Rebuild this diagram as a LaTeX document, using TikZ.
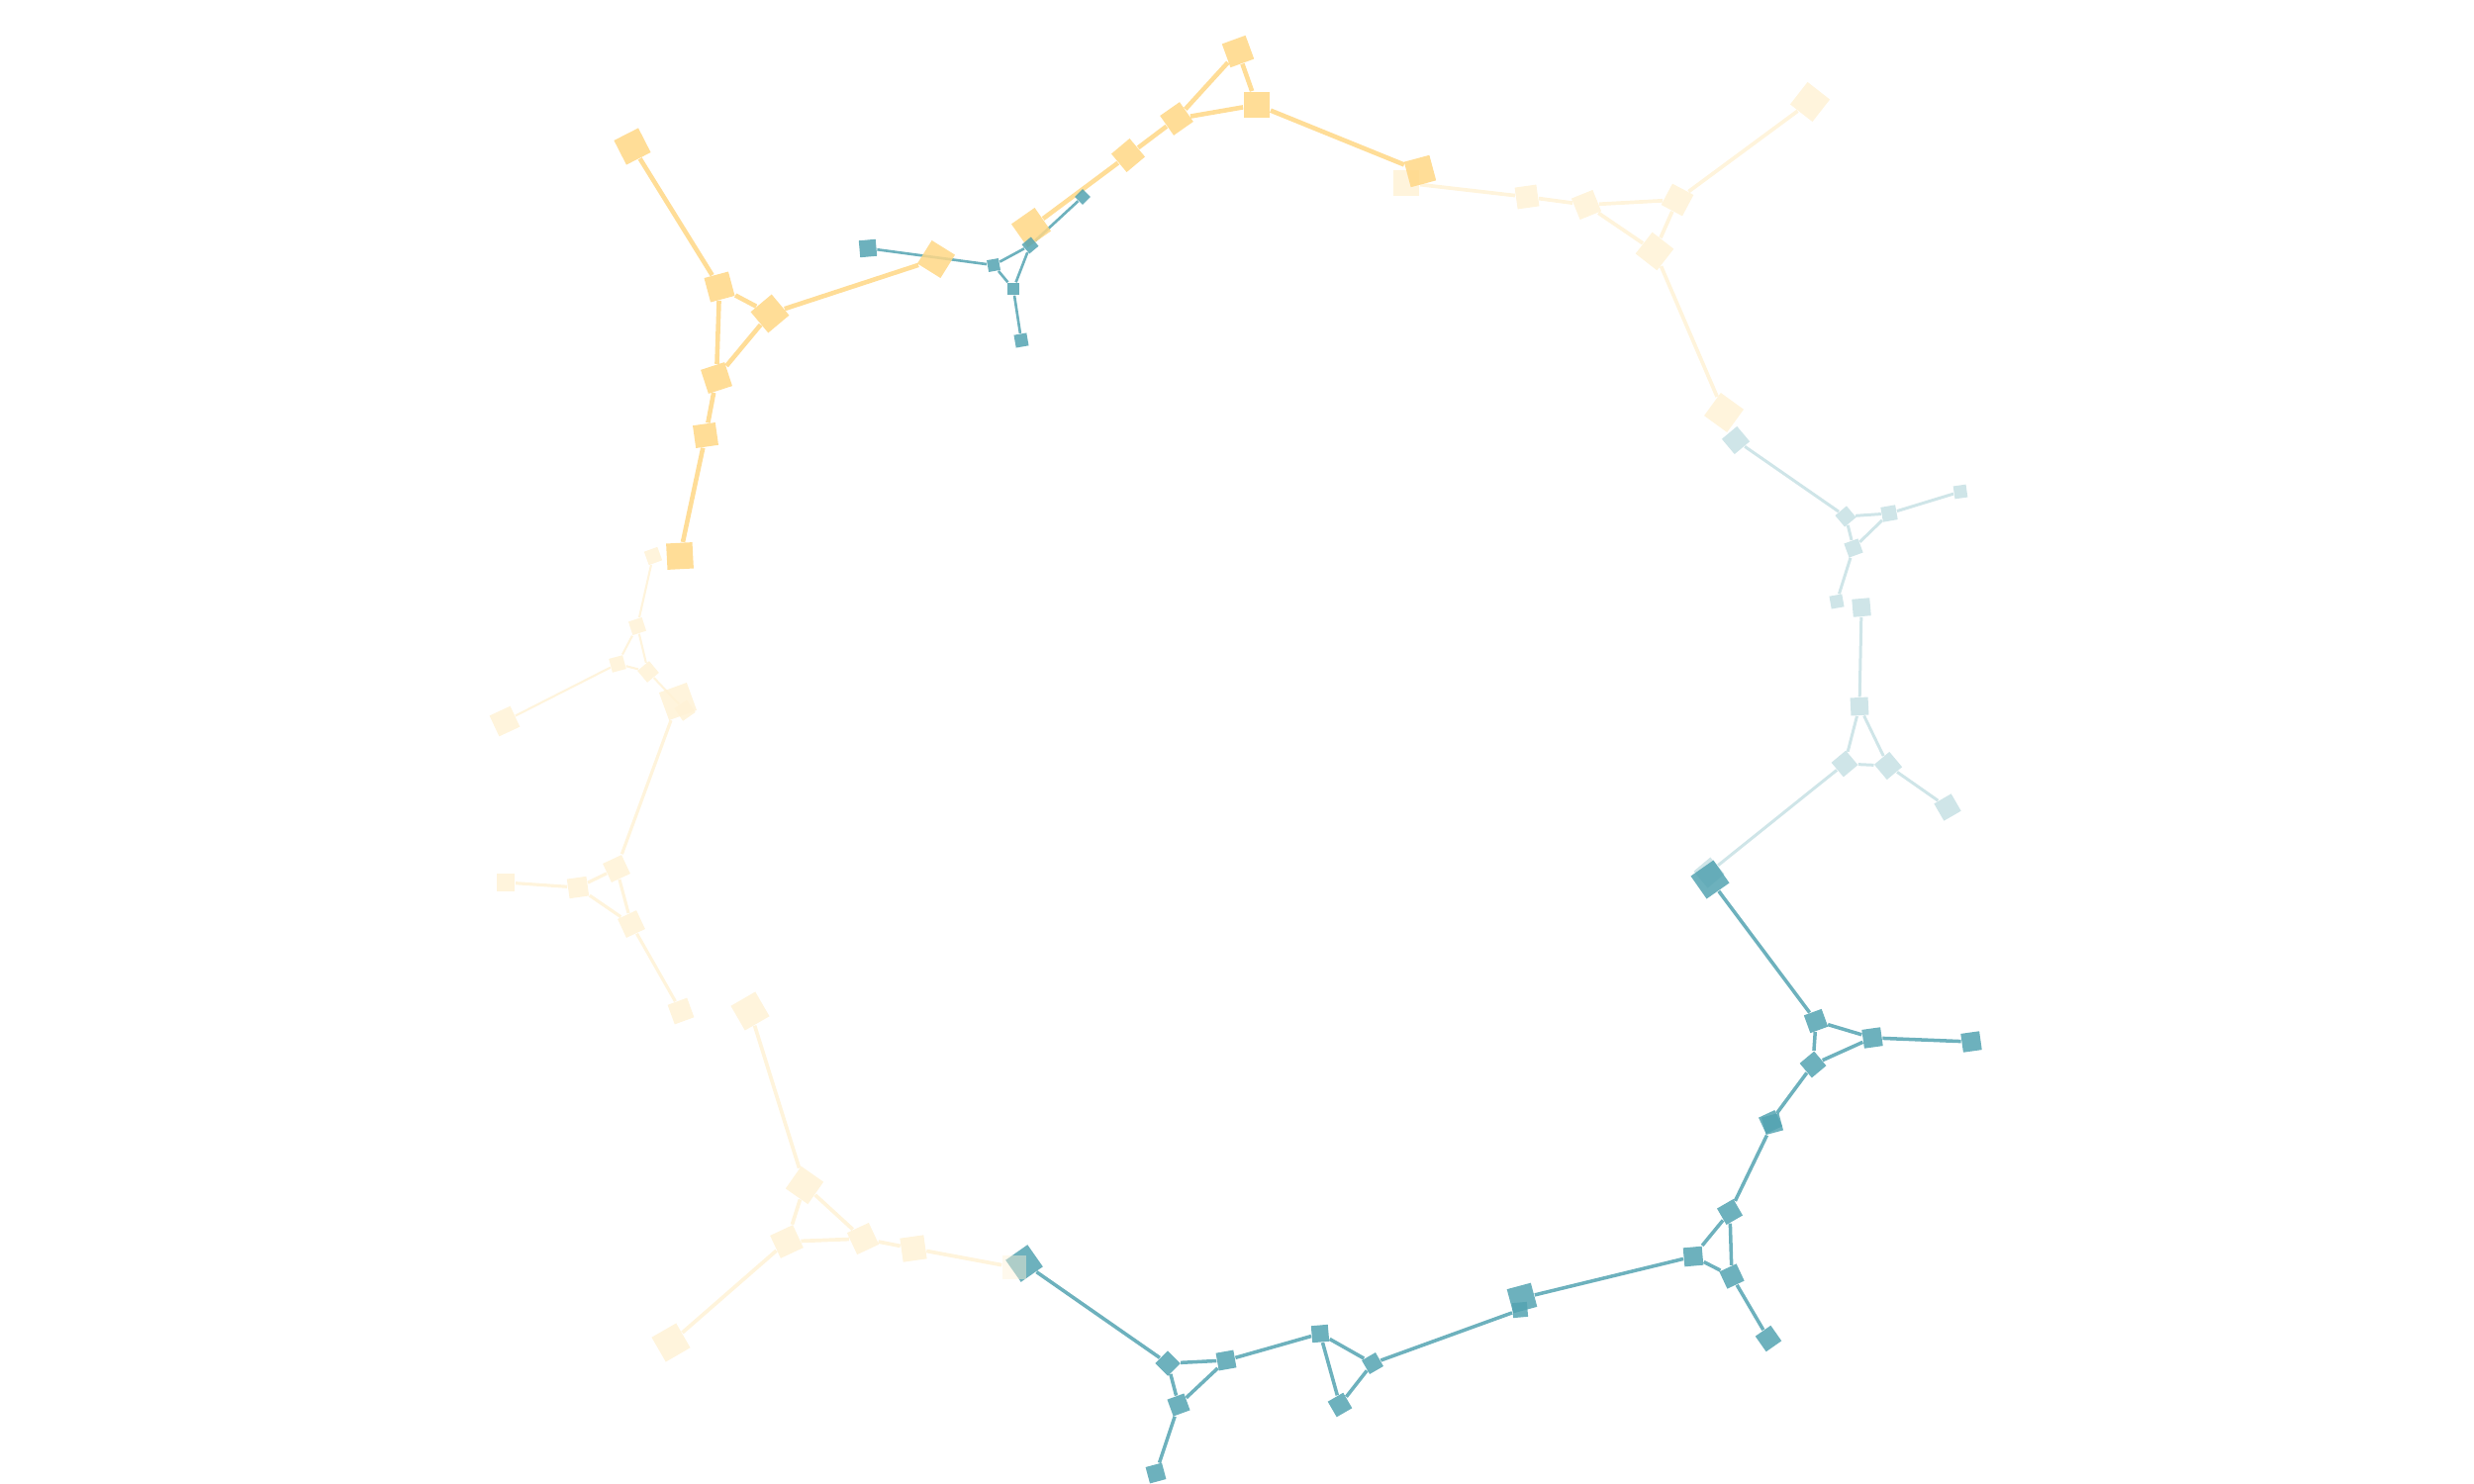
\documentclass[tikz,border=0pt]{standalone}
\usetikzlibrary{backgrounds}
\definecolor{gold}{RGB}{255,221,151}
\definecolor{goldF}{RGB}{255,215,133}
\definecolor{cream}{RGB}{255,244,220}
\definecolor{creamF}{RGB}{255,242,214}
\definecolor{teal}{RGB}{109,177,189}
\definecolor{tealF}{RGB}{83,163,177}
\definecolor{ice}{RGB}{207,229,232}
\definecolor{iceF}{RGB}{199,224,228}
\tikzset{
  sq/.style={rectangle, inner sep=0pt, minimum size=#1*0.01cm, fill opacity=0.85},
  gnode/.style={sq=1.15*#1, fill=goldF},
  cnode/.style={sq=1.1*#1, fill=creamF},
  tnode/.style={sq=#1, fill=tealF},
  inode/.style={sq=#1, fill=iceF},
  goldline/.style={draw=gold, line width=1.3pt},
  creamline/.style={draw=cream, line width=#1},
  tealline/.style={draw=teal, line width=#1},
  iceline/.style={draw=ice, line width=0.85pt}
}
\begin{document}
\begin{tikzpicture}[x=0.01cm, y=-0.01cm]
\useasboundingbox (0,0) rectangle (2500,1500);

% cream, top right
\node[cnode=24] (p1) at (1421,185) {};
\node[cnode=20, rotate=8] (p2) at (1543,199) {};
\node[cnode=21, rotate=22] (p3) at (1603,207) {};
\node[cnode=22, rotate=62] (p4) at (1695,202) {};
\node[cnode=25, rotate=52] (p5) at (1672,254) {};
\node[cnode=26, rotate=52] (p6) at (1829,103) {};
\node[cnode=26, rotate=54] (p7) at (1742,417) {};

% gold
\node[gnode=24, rotate=27] (g1) at (639,148) {};
\node[gnode=22, rotate=15] (g2) at (727,290) {};
\node[gnode=24, rotate=40] (g3) at (778,317) {};
\node[gnode=22, rotate=18] (g4) at (724,382) {};
\node[gnode=20, rotate=8] (g5) at (713,440) {};
\node[gnode=23, rotate=3] (g6) at (687,562) {};
\node[gnode=24, rotate=58] (g7) at (946,262) {};
\node[gnode=25, rotate=35] (g8) at (1042,230) {};
\node[gnode=21, rotate=40] (g9) at (1140,157) {};
\node[gnode=21, rotate=35] (g10) at (1189,120) {};
\node[gnode=22, rotate=20] (g11) at (1251,52) {};
\node[gnode=23] (g12) at (1270,106) {};
\node[gnode=23, rotate=15] (g13) at (1435,173) {};

% teal, top
\node[tnode=17, rotate=5] (b1) at (877,251) {};
\node[tnode=12, rotate=10] (b2) at (1004,268) {};
\node[tnode=12, rotate=40] (b3) at (1041,248) {};
\node[tnode=12] (b4) at (1024,292) {};
\node[tnode=13, rotate=10] (b5) at (1032,344) {};
\node[tnode=11, rotate=45] (b6) at (1094,199) {};

% ice, right
\node[inode=20, rotate=40] (lb1) at (1754,445) {};
\node[inode=15, rotate=40] (lb2) at (1865,522) {};
\node[inode=15, rotate=10] (lb3) at (1909,519) {};
\node[inode=15, rotate=20] (lb4) at (1873,554) {};
\node[inode=13, rotate=8] (lb5) at (1981,497) {};
\node[inode=13, rotate=10] (lb6) at (1856,608) {};
\node[inode=18, rotate=5] (lb7) at (1881,614) {};
\node[inode=18, rotate=3] (lb8) at (1879,714) {};
\node[inode=19, rotate=40] (lb9) at (1864,772) {};
\node[inode=20, rotate=40] (lb10) at (1908,774) {};
\node[inode=20, rotate=30] (lb11) at (1968,816) {};
\node[inode=22, rotate=40] (lb12) at (1727,882) {};

% teal, bottom right
\node[tnode=28, rotate=35] (t1) at (1728,889) {};
\node[tnode=19, rotate=20] (t2) at (1835,1032) {};
\node[tnode=19, rotate=8] (t3) at (1892,1049) {};
\node[tnode=19, rotate=40] (t4) at (1832,1076) {};
\node[tnode=19, rotate=8] (t5) at (1992,1053) {};
\node[tnode=18, rotate=25] (t6a) at (1789,1134) {};
\node[tnode=18, rotate=15] (t6b) at (1791,1136) {};
\node[tnode=19, rotate=30] (t7) at (1748,1225) {};
\node[tnode=19, rotate=5] (t8) at (1711,1270) {};
\node[tnode=19, rotate=25] (t9) at (1750,1290) {};
\node[tnode=19, rotate=35] (t10) at (1787,1353) {};
\node[tnode=25, rotate=15] (t11) at (1538,1312) {};
\node[tnode=15, rotate=5] (t12) at (1536,1324) {};
\node[tnode=16, rotate=30] (t13) at (1387,1378) {};
\node[tnode=17, rotate=5] (t14) at (1334,1348) {};
\node[tnode=18, rotate=30] (t15) at (1354,1420) {};
\node[tnode=18, rotate=10] (t16) at (1239,1375) {};
\node[tnode=18, rotate=45] (t17) at (1180,1378) {};
\node[tnode=18, rotate=20] (t18) at (1191,1420) {};
\node[tnode=17, rotate=15] (t19) at (1168,1489) {};

% cream, bottom left
\node[tnode=27, rotate=35] (c1) at (1035,1277) {};
\node[cnode=22, fill opacity=0.45] (pc1) at (1025,1281) {};
\node[cnode=22, rotate=8] (y1) at (923,1262) {};
\node[cnode=22, rotate=25] (y2) at (872,1252) {};
\node[cnode=25, rotate=55] (y3) at (813,1198) {};
\node[cnode=23, rotate=25] (y4) at (795,1255) {};
\node[cnode=26, rotate=30] (y5) at (678,1357) {};
\node[cnode=26, rotate=30] (y6) at (758,1022) {};
\node[cnode=19, rotate=20] (y7) at (688,1022) {};
\node[cnode=19, rotate=25] (q8) at (623,878) {};
\node[cnode=18, rotate=8] (q9) at (584,897) {};
\node[cnode=19, rotate=25] (q10) at (638,934) {};
\node[cnode=17] (q11) at (511,892) {};
\node[cnode=27, rotate=20] (q6) at (685,709) {};
\node[cnode=14, rotate=35] (q7) at (692,718) {};
\node[cnode=13, rotate=20] (q1) at (660,562) {};
\node[cnode=13, rotate=18] (q2) at (644,633) {};
\node[cnode=13, rotate=15] (q3) at (624,671) {};
\node[cnode=14, rotate=40] (q4) at (655,679) {};
\node[cnode=21, rotate=25] (q5) at (510,729) {};

\begin{scope}[on background layer]
\foreach \a/\b in {g1/g2, g2/g3, g2/g4, g3/g4, g4/g5, g5/g6, g3/g7,
    g8/g9, g9/g10, g10/g11, g10/g12, g11/g12, g12/g13}
  \draw[goldline] (\a) -- (\b);
\foreach \a/\b in {b1/b2, b2/b3, b2/b4, b3/b4, b4/b5, b3/b6}
  \draw[tealline=0.75pt] (\a) -- (\b);
\foreach \a/\b in {p1/p2, p2/p3, p3/p4, p3/p5, p4/p5, p4/p6, p5/p7,
    pc1/y1, y1/y2, y2/y3, y2/y4, y3/y4, y4/y5, y3/y6}
  \draw[creamline=1.05pt] (\a) -- (\b);
\foreach \a/\b in {q6/q8, q8/q9, q8/q10, q9/q10, q9/q11, q10/y7}
  \draw[creamline=0.9pt] (\a) -- (\b);
\foreach \a/\b in {q1/q2, q2/q3, q2/q4, q3/q4, q3/q5, q4/q7}
  \draw[creamline=0.6pt] (\a) -- (\b);
\foreach \a/\b in {lb1/lb2, lb2/lb3, lb2/lb4, lb3/lb4, lb3/lb5, lb4/lb6,
    lb7/lb8, lb8/lb9, lb8/lb10, lb9/lb10, lb10/lb11, lb9/lb12}
  \draw[iceline] (\a) -- (\b);
\foreach \a/\b in {t1/t2, t2/t3, t2/t4, t3/t4, t3/t5, t4/t6a,
    t6b/t7, t7/t8, t7/t9, t8/t9, t9/t10, t8/t11,
    t12/t13, t13/t14, t13/t15, t14/t15, t14/t16,
    t16/t17, t16/t18, t17/t18, t18/t19, t17/c1}
  \draw[tealline=1pt] (\a) -- (\b);
\end{scope}
\end{tikzpicture}
\end{document}
